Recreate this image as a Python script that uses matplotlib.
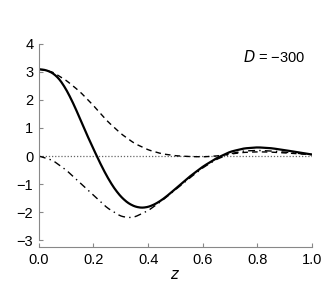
import matplotlib
matplotlib.use('Agg')
import matplotlib.pyplot as plt
import numpy as np

# values
z_solid = [0.0, 0.025, 0.05, 0.075, 0.1, 0.125, 0.15, 0.175, 0.2, 0.225, 0.25, 0.275, 0.3,
           0.325, 0.35, 0.375, 0.4, 0.425, 0.45, 0.475, 0.5, 0.55, 0.6, 0.65, 0.7, 0.75,
           0.8, 0.85, 0.9, 0.95, 1.0]
solid = [3.10, 3.07, 2.97, 2.75, 2.38, 1.90, 1.35, 0.78, 0.25, -0.27, -0.74, -1.14, -1.45,
         -1.67, -1.80, -1.85, -1.82, -1.72, -1.57, -1.38, -1.17, -0.75, -0.38, -0.08, 0.15, 0.27,
         0.31, 0.28, 0.21, 0.13, 0.05]

z_dash = [0.0, 0.05, 0.1, 0.15, 0.2, 0.25, 0.3, 0.35, 0.4, 0.45, 0.5, 0.55, 0.6, 0.65,
          0.7, 0.75, 0.8, 0.85, 0.9, 0.95, 1.0]
dashed = [3.10, 3.00, 2.70, 2.30, 1.80, 1.25, 0.80, 0.45, 0.22, 0.08, 0.01, -0.02, -0.03, 0.0,
          0.07, 0.13, 0.15, 0.14, 0.11, 0.08, 0.05]

z_dd = [0.0, 0.05, 0.1, 0.15, 0.2, 0.25, 0.3, 0.33, 0.35, 0.4, 0.45, 0.5, 0.55, 0.6, 0.65,
        0.7, 0.75, 0.8, 0.85, 0.9, 0.95, 1.0]
dashdot = [0.0, -0.15, -0.50, -0.95, -1.40, -1.85, -2.15, -2.20, -2.18, -1.95, -1.60, -1.20,
           -0.80, -0.42, -0.12, 0.08, 0.18, 0.20, 0.18, 0.14, 0.09, 0.05]

xticks = [0.0, 0.2, 0.4, 0.6, 0.8, 1.0]
yticks = [-3, -2, -1, 0, 1, 2, 3, 4]

plt.rcParams['font.family'] = ['Liberation Sans', 'DejaVu Sans']
plt.rcParams['font.size'] = 10.5

def smooth(x, y):
    # linear through the read points, then a short running mean
    xs = np.linspace(x[0], x[-1], 400)
    ys = np.interp(xs, x, y)
    k = 9
    ker = np.ones(k) / k
    ys = np.convolve(np.pad(ys, k // 2, mode='edge'), ker, mode='valid')
    return xs, ys

fig = plt.figure(figsize=(3.32, 2.91), dpi=100)
ax = fig.add_axes([0.117, 0.175, 0.823, 0.674])

ax.plot([0, 1], [0, 0], color='#666666', lw=0.9, ls=(0, (1, 1.5)))
ax.plot(*smooth(z_dash, dashed), color='black', lw=1.0, ls=(0, (4, 3)))
ax.plot(*smooth(z_dd, dashdot), color='black', lw=1.0, ls=(0, (5, 3, 1, 3)))
ax.plot(*smooth(z_solid, solid), color='black', lw=1.6)

ax.set_xlim(0, 1)
ax.set_ylim(-3, 4)
ax.set_xticks(xticks)
ax.set_xticklabels(['%.1f' % v for v in xticks])
ax.set_yticks(yticks)
ax.set_yticklabels([str(v).replace('-', '\u2212') for v in yticks])

for s in ['top', 'right']:
    ax.spines[s].set_visible(False)
for s in ['left', 'bottom']:
    ax.spines[s].set_color('#888888')
    ax.spines[s].set_linewidth(0.8)
ax.spines['bottom'].set_position(('outward', 5))
ax.tick_params(direction='in', color='#888888', length=3, width=0.8, labelsize=10.5, pad=4)

ax.set_xlabel('$z$', fontsize=10.5, labelpad=1)
ax.text(0.975, 0.975, '$D$ = \u2212300', transform=ax.transAxes, ha='right', va='top', fontsize=10.5)

fig.savefig('out.png', dpi=100)
